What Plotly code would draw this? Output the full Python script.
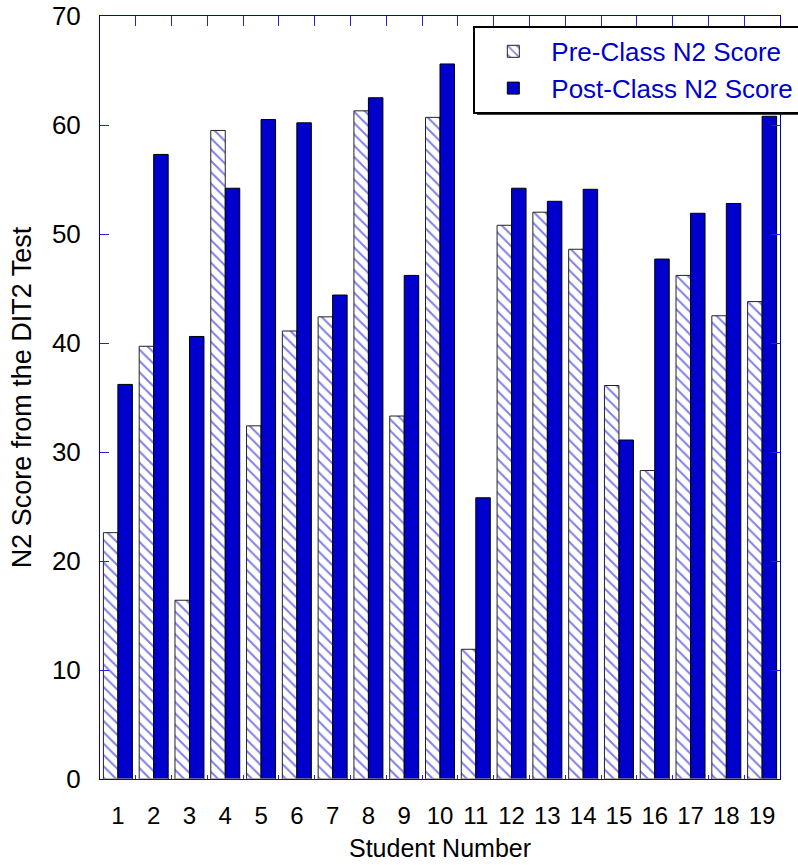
import plotly.graph_objects as go

students = [str(i) for i in range(1, 20)]
pre_scores = [22.6, 39.7, 16.4, 59.5, 32.4, 41.1, 42.4, 61.3, 33.3, 60.7,
              11.9, 50.8, 52.0, 48.6, 36.1, 28.3, 46.2, 42.5, 43.8]
post_scores = [36.2, 57.3, 40.6, 54.2, 60.5, 60.2, 44.4, 62.5, 46.2, 65.6,
               25.8, 54.2, 53.0, 54.1, 31.1, 47.7, 51.9, 52.8, 60.8]
y_ticks = [0, 10, 20, 30, 40, 50, 60, 70]

BLUE = "#0000CC"
AXIS_BLUE = "#2222DD"
SANS = "Liberation Sans, Arial, Helvetica, sans-serif"

fig = go.Figure()
fig.add_trace(go.Bar(
    x=students, y=pre_scores, name="Pre-Class N2 Score",
    marker=dict(color="white", line=dict(color="#222222", width=1),
                pattern=dict(shape="\\", fgcolor=BLUE, bgcolor="white",
                             size=8, solidity=0.25)),
))
fig.add_trace(go.Bar(
    x=students, y=post_scores, name="Post-Class N2 Score",
    marker=dict(color=BLUE, line=dict(color="black", width=1)),
))

fig.update_layout(
    width=798, height=865,
    margin=dict(l=100, r=18, t=16, b=86, autoexpand=False),
    paper_bgcolor="white", plot_bgcolor="white",
    barmode="group", bargap=0.19, bargroupgap=0,
    showlegend=True,
    legend=dict(x=0.549, y=0.987, xanchor="left", yanchor="top",
                bgcolor="white", bordercolor="black", borderwidth=2,
                font=dict(family=SANS, size=26, color=BLUE),
                tracegroupgap=0, itemwidth=66),
    xaxis=dict(type="category", tickson="boundaries", ticks="inside", ticklen=4,
               tickcolor=AXIS_BLUE, showline=True, linecolor=BLUE, linewidth=1,
               mirror=True, showgrid=False, ticklabelstandoff=15, tickangle=0,
               tickfont=dict(family=SANS, size=24, color="black"),
               title=dict(text="Student Number", standoff=11,
                          font=dict(family=SANS, size=25, color="black"))),
    xaxis2=dict(type="category", overlaying="x", side="top", matches="x",
                tickson="boundaries", ticks="inside", ticklen=10,
                tickcolor=AXIS_BLUE, showticklabels=False, showgrid=False,
                showline=False),
    yaxis=dict(range=[0, 70], tickvals=y_ticks, ticks="inside", ticklen=9,
               tickcolor=AXIS_BLUE, showline=True, linecolor=BLUE, linewidth=1,
               mirror="ticks", showgrid=False, zeroline=False,
               ticklabelstandoff=13,
               tickfont=dict(family=SANS, size=26, color="black"),
               title=dict(text="N2 Score from the DIT2 Test", standoff=12,
                          font=dict(family=SANS, size=27, color="black"))),
)

# invisible trace to activate the top category axis
fig.add_trace(go.Bar(x=students, y=[0]*len(students), xaxis="x2",
                     showlegend=False, hoverinfo="skip",
                     marker=dict(color="rgba(0,0,0,0)")))

# legend drop shadow (drawn under the legend box)
fig.add_shape(type="rect", xref="paper", yref="paper",
              x0=0.5544, x1=1.05, y0=0.8705, y1=0.98,
              fillcolor="black", line=dict(width=0), layer="above")

fig.write_html("out.html",
               config={"displayModeBar": False},
               post_script="document.body.style.margin='0';")
